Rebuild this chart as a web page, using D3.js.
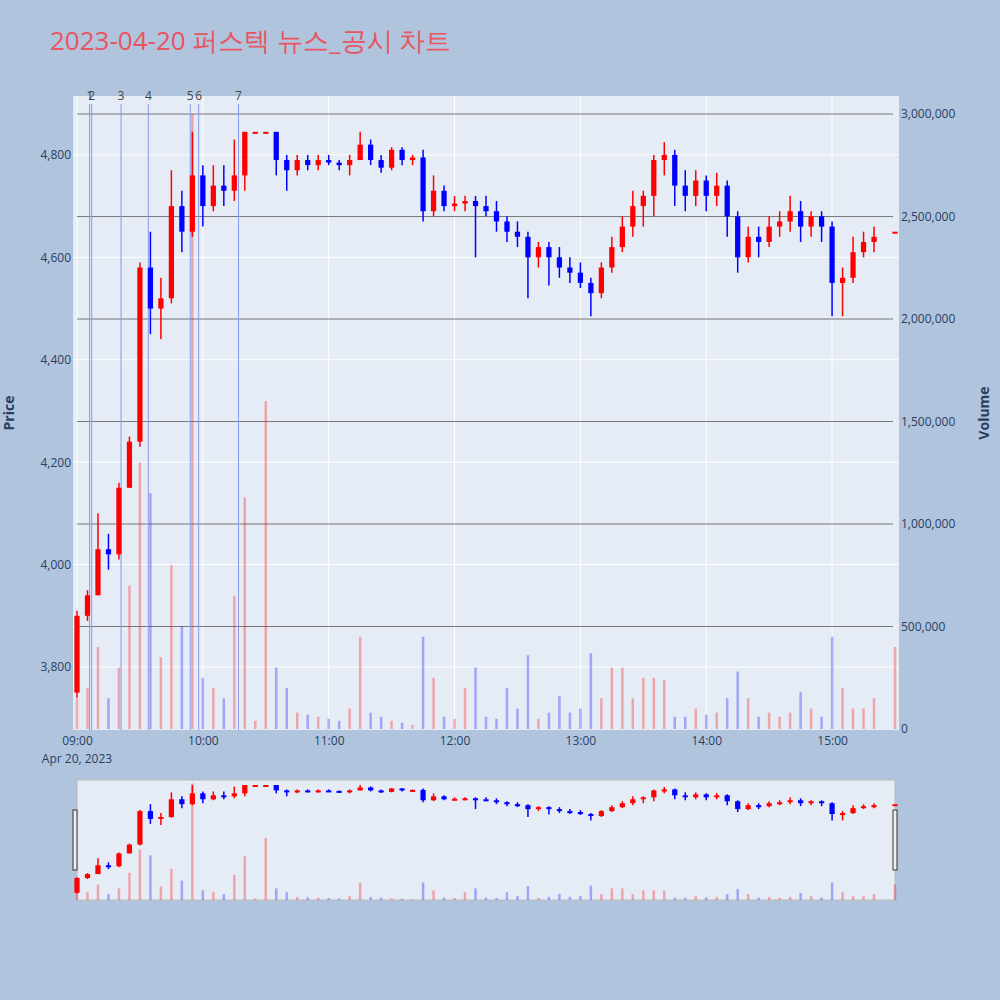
<!DOCTYPE html>
<html><head><meta charset="utf-8">
<script src="https://cdn.jsdelivr.net/npm/d3@7"></script>
<style>body{margin:0;background:#b0c4de;font-family:"Open Sans",sans-serif}</style>
</head><body><div id="chart"></div>
<script>
// 5-minute candles
var times = ["09:00","09:05","09:10","09:15","09:20","09:25","09:30","09:35","09:40","09:45","09:50","09:55",
  "10:00","10:05","10:10","10:15","10:20","10:25","10:30","10:35","10:40","10:45","10:50","10:55",
  "11:00","11:05","11:10","11:15","11:20","11:25","11:30","11:35","11:40","11:45","11:50","11:55",
  "12:00","12:05","12:10","12:15","12:20","12:25","12:30","12:35","12:40","12:45","12:50","12:55",
  "13:00","13:05","13:10","13:15","13:20","13:25","13:30","13:35","13:40","13:45","13:50","13:55",
  "14:00","14:05","14:10","14:15","14:20","14:25","14:30","14:35","14:40","14:45","14:50","14:55",
  "15:00","15:05","15:10","15:15","15:20","15:30"];
var open  = [3750,3900,3940,4030,4020,4150,4240,4580,4500,4520,4700,4650, 4760,4700,4740,4730,4760,4845,4845,4845,4790,4770,4790,4780,
  4790,4785,4780,4790,4820,4790,4775,4810,4790,4795,4690,4730, 4700,4705,4710,4700,4690,4670,4650,4640,4600,4620,4600,4580,
  4570,4550,4530,4580,4620,4660,4700,4720,4790,4800,4740,4720, 4750,4720,4740,4680,4600,4640,4630,4660,4670,4690,4660,4680,
  4660,4550,4560,4610,4630,4650];
var high  = [3910,3950,4100,4060,4160,4250,4590,4650,4560,4770,4730,4845, 4780,4780,4780,4830,4845,4845,4845,4845,4800,4800,4800,4800,
  4800,4790,4800,4845,4830,4800,4815,4815,4800,4810,4760,4740, 4720,4720,4720,4720,4710,4680,4670,4650,4630,4630,4620,4600,
  4590,4560,4590,4640,4680,4730,4730,4800,4825,4810,4770,4770, 4760,4765,4750,4690,4660,4660,4680,4690,4720,4710,4690,4690,
  4670,4580,4640,4650,4660,4650];
var low   = [3740,3890,3940,3990,4010,4150,4230,4450,4440,4510,4610,4640, 4660,4690,4700,4710,4730,4845,4845,4760,4730,4760,4770,4770,
  4780,4770,4760,4790,4780,4765,4770,4780,4780,4670,4680,4690, 4690,4690,4600,4680,4650,4630,4620,4520,4580,4545,4560,4550,
  4540,4485,4520,4570,4610,4640,4660,4680,4760,4700,4690,4700, 4690,4700,4640,4570,4590,4600,4620,4640,4650,4630,4640,4630,
  4485,4485,4550,4600,4610,4650];
var close = [3900,3940,4030,4020,4150,4240,4580,4500,4520,4700,4650,4760, 4700,4740,4730,4760,4845,4845,4845,4790,4770,4790,4780,4790,
  4785,4780,4790,4820,4790,4775,4810,4790,4795,4690,4730,4700, 4705,4710,4700,4690,4670,4650,4640,4600,4620,4600,4580,4570,
  4550,4530,4580,4620,4660,4700,4720,4790,4800,4740,4720,4750, 4720,4740,4680,4600,4640,4630,4660,4670,4690,4660,4680,4660,
  4550,4560,4610,4630,4640,4650];
var volume = [150,200,400,150,300,700,1300,1150,350,800,500,3000, 250,200,150,650,1130,40,1600,300,200,80,70,60,
  50,40,100,450,80,60,40,30,20,450,250,60, 50,200,300,60,50,200,100,360,50,80,160,80,
  100,370,150,300,300,150,250,250,240,60,60,100, 70,80,150,280,150,60,80,60,80,180,100,60,
  450,200,100,100,150,400].map(function(v){ return v * 1000; });
var newsTimes = ["09:06","09:07","09:21","09:34","09:54","09:58","10:17"];
var newsLabels = ["1","2","3","4","5","6","7"];
var priceTicks = [3800,4000,4200,4400,4600,4800];
var volumeTicks = [0,500000,1000000,1500000,2000000,2500000,3000000];
var hourTicks = ["09:00","10:00","11:00","12:00","13:00","14:00","15:00"];

var W = 1000, H = 1000;
var parse = d3.timeParse("%Y-%m-%d %H:%M");
function t(s) { return parse("2023-04-20 " + s); }
var data = times.map(function(s, i) {
  return {time: t(s), o: open[i], h: high[i], l: low[i], c: close[i], v: volume[i]};
});

var svg = d3.select("#chart").append("svg").attr("width", W).attr("height", H);

var x = d3.scaleTime().domain([t("09:00"), t("15:30")]).range([77, 895]);
var y = d3.scaleLinear().domain([3677, 4915]).range([730, 96]);
var yv = d3.scaleLinear().domain([0, 3088000]).range([729, 96]);

svg.append("text").attr("x", 50).attr("y", 50).attr("fill", "#e8545f")
  .style("font-size", "26px").text("2023-04-20 퍼스텍 뉴스_공시 차트");

// plot background
svg.append("rect").attr("x", 73).attr("y", 96).attr("width", 826).attr("height", 634).attr("fill", "#e5ecf6");

// price grid
svg.selectAll(".pg").data(priceTicks).enter().append("line")
  .attr("x1", 73).attr("x2", 899).attr("y1", function(d){ return y(d); }).attr("y2", function(d){ return y(d); })
  .attr("stroke", "#fff");
svg.selectAll(".xg").data(hourTicks).enter().append("line")
  .attr("x1", function(d){ return x(t(d)); }).attr("x2", function(d){ return x(t(d)); })
  .attr("y1", 96).attr("y2", 730).attr("stroke", "#fff");
// volume grid
svg.selectAll(".vg").data(volumeTicks.slice(1)).enter().append("line")
  .attr("x1", 77).attr("x2", 893).attr("y1", function(d){ return yv(d); }).attr("y2", function(d){ return yv(d); })
  .attr("stroke", "#777");

function color(d) { return d.c >= d.o ? "red" : "blue"; }
var bw = (x(t("09:05")) - x(t("09:00"))) * 0.5;
var vw = 2.5;

// volume
svg.selectAll(".vol").data(data).enter().append("rect")
  .attr("x", function(d){ return x(d.time) - vw/2; }).attr("width", vw)
  .attr("y", function(d){ return yv(d.v); }).attr("height", function(d){ return yv(0) - yv(d.v); })
  .attr("fill", color).attr("opacity", 0.3);

// news lines
svg.selectAll(".news").data(newsTimes).enter().append("line")
  .attr("x1", function(d){ return x(t(d)); }).attr("x2", function(d){ return x(t(d)); })
  .attr("y1", 104).attr("y2", 730).attr("stroke", "#8899ee").attr("stroke-width", 1);
svg.selectAll(".newsl").data(newsTimes).enter().append("text")
  .attr("x", function(d){ return x(t(d)); }).attr("y", 100).attr("text-anchor", "middle")
  .attr("fill", "#444").style("font-size", "12px").text(function(d, i){ return newsLabels[i]; });

// candles
function candles(g, yy) {
  g.selectAll(".wick").data(data).enter().append("line")
    .attr("x1", function(d){ return x(d.time); }).attr("x2", function(d){ return x(d.time); })
    .attr("y1", function(d){ return yy(d.h); }).attr("y2", function(d){ return yy(d.l); })
    .attr("stroke", color).attr("stroke-width", 1.5);
  g.selectAll(".body").data(data).enter().append("rect")
    .attr("x", function(d){ return x(d.time) - bw/2; }).attr("width", bw)
    .attr("y", function(d){ return yy(Math.max(d.o, d.c)); })
    .attr("height", function(d){ return Math.max(2, Math.abs(yy(d.o) - yy(d.c))); })
    .attr("fill", color);
}
candles(svg.append("g"), y);

// axes
var ax = svg.append("g").attr("transform", "translate(0,730)")
  .call(d3.axisBottom(x).tickValues(hourTicks.map(t)).tickFormat(d3.timeFormat("%H:%M")).tickSize(0).tickPadding(6));
svg.append("text").attr("x", 77).attr("y", 763).attr("text-anchor", "middle").attr("fill", "#2a3f5f")
  .style("font-size", "12px").text("Apr 20, 2023");
var al = svg.append("g").attr("transform", "translate(73,0)")
  .call(d3.axisLeft(y).tickValues(priceTicks).tickFormat(d3.format(",")).tickSize(0).tickPadding(2));
var ar = svg.append("g").attr("transform", "translate(899,0)")
  .call(d3.axisRight(yv).tickValues(volumeTicks).tickFormat(d3.format(",")).tickSize(0).tickPadding(2));
[ax, al, ar].forEach(function(a) {
  a.select(".domain").remove();
  a.selectAll("text").attr("fill", "#2a3f5f").style("font-size", "12px").style("font-family", "Open Sans");
});
svg.append("text").attr("transform", "translate(14,413) rotate(-90)").attr("text-anchor", "middle")
  .attr("fill", "#2a3f5f").style("font-size", "14px").style("font-weight", "bold").text("Price");
svg.append("text").attr("transform", "translate(989,413) rotate(-90)").attr("text-anchor", "middle")
  .attr("fill", "#2a3f5f").style("font-size", "14px").style("font-weight", "bold").text("Volume");

// range slider
svg.append("rect").attr("x", 77).attr("y", 780).attr("width", 818).attr("height", 120)
  .attr("fill", "#e5ecf6").attr("stroke", "#bbb");
var ym = d3.scaleLinear().domain([3677, 4845]).range([900, 785]);
var yvm = d3.scaleLinear().domain([0, 3088000]).range([900, 780]);
var mg = svg.append("g");
mg.selectAll(".mv").data(data).enter().append("rect")
  .attr("x", function(d){ return x(d.time) - vw/2; }).attr("width", vw)
  .attr("y", function(d){ return yvm(d.v); }).attr("height", function(d){ return yvm(0) - yvm(d.v); })
  .attr("fill", color).attr("opacity", 0.3);
candles(mg, ym);
[75, 895].forEach(function(px) {
  svg.append("rect").attr("x", px - 2).attr("y", 810).attr("width", 4).attr("height", 60)
    .attr("fill", "#eee").attr("stroke", "#333");
});
</script></body></html>
